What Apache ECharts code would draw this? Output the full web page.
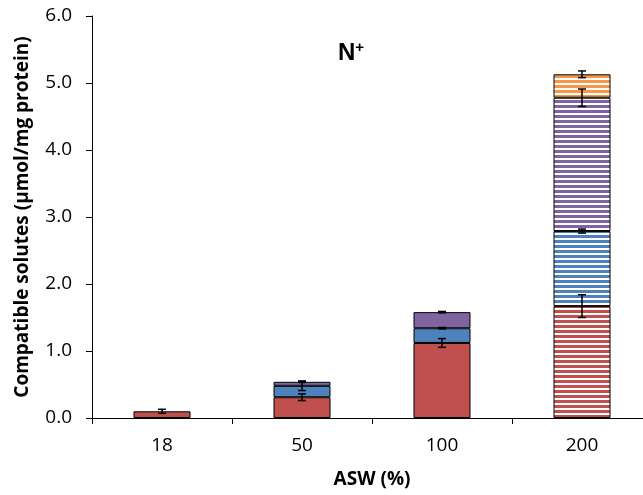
<!DOCTYPE html>
<html>
<head>
<meta charset="utf-8">
<script src="https://cdn.jsdelivr.net/npm/echarts@6/dist/echarts.min.js"></script>
<style>html,body{margin:0;padding:0;background:#fff;overflow:hidden}#c{width:660px;height:495px}</style>
</head>
<body>
<div id="c"></div>
<script>
var categories = ['18', '50', '100', '200'];
var redVals = [0.10, 0.31, 1.12, 1.67];
var blueVals = [0.00, 0.17, 0.22, 1.12];
var purpleVals = [0.00, 0.06, 0.24, 1.99];
var orangeVals = [0.00, 0.00, 0.00, 0.35];
var redErr = [0.03, 0.05, 0.065, 0.17];
var blueErr = [0, 0.07, 0.01, 0.03];
var purpleErr = [0, 0.01, 0.01, 0.13];
var orangeErr = [0, 0, 0, 0.05];
var yTicks = ['0.0', '1.0', '2.0', '3.0', '4.0', '5.0', '6.0'];

var colors = {red: '#C0504D', blue: '#4F81BD', purple: '#8064A2', orange: '#F79646'};
var hatchedIndex = 3;
var FONT = 'Open Sans, Liberation Sans, sans-serif';

function stripe(color) {
  var c = document.createElement('canvas');
  c.width = 4; c.height = 5;
  var ctx = c.getContext('2d');
  ctx.fillStyle = '#ffffff';
  ctx.fillRect(0, 0, 4, 5);
  ctx.fillStyle = color;
  ctx.fillRect(0, 0, 4, 3);
  return {image: c, repeat: 'repeat'};
}

function barData(vals, color) {
  return vals.map(function (v, i) {
    if (v === 0) return {value: '-'};
    return {value: v, itemStyle: {color: i === hatchedIndex ? stripe(color) : color}};
  });
}

var layers = [
  {name: 'red', vals: redVals, err: redErr, color: colors.red},
  {name: 'blue', vals: blueVals, err: blueErr, color: colors.blue},
  {name: 'purple', vals: purpleVals, err: purpleErr, color: colors.purple},
  {name: 'orange', vals: orangeVals, err: orangeErr, color: colors.orange}
];

var errData = [];
var cum = categories.map(function () { return 0; });
layers.forEach(function (L) {
  L.vals.forEach(function (v, i) {
    cum[i] += v;
    if (v > 0 && L.err[i] > 0) errData.push([i, cum[i] - L.err[i], cum[i] + L.err[i]]);
  });
});

var series = layers.map(function (L) {
  return {
    type: 'bar', name: L.name, stack: 'total', barWidth: 57,
    itemStyle: {borderColor: '#000', borderWidth: 1},
    data: barData(L.vals, L.color), animation: false
  };
});

series.push({
  type: 'custom', name: 'err', animation: false, z: 10,
  renderItem: function (params, api) {
    var x = api.value(0);
    var lo = api.coord([x, api.value(1)]);
    var hi = api.coord([x, api.value(2)]);
    var w = 4;
    var st = {stroke: '#000', lineWidth: 1.5};
    return {type: 'group', children: [
      {type: 'line', shape: {x1: lo[0], y1: lo[1], x2: hi[0], y2: hi[1]}, style: st},
      {type: 'line', shape: {x1: lo[0] - w, y1: lo[1], x2: lo[0] + w, y2: lo[1]}, style: st},
      {type: 'line', shape: {x1: hi[0] - w, y1: hi[1], x2: hi[0] + w, y2: hi[1]}, style: st}
    ]};
  },
  encode: {x: 0, y: [1, 2]},
  data: errData
});

var chart = echarts.init(document.getElementById('c'));
chart.setOption({
  animation: false,
  backgroundColor: '#fff',
  title: {
    text: '{n|N}{s|+}', left: 333, top: 36,
    textStyle: {
      rich: {
        n: {fontFamily: 'Liberation Sans, Arial, sans-serif', fontWeight: 'bold', fontSize: 24, color: '#000', verticalAlign: 'bottom', lineHeight: 24},
        s: {fontFamily: 'Liberation Sans, Arial, sans-serif', fontWeight: 'bold', fontSize: 15, color: '#000', verticalAlign: 'bottom', lineHeight: 24, padding: [0, 0, 10, 0]}
      }
    }
  },
  grid: {left: 92, right: 8, top: 16, bottom: 77, containLabel: false},
  xAxis: {
    type: 'category', data: categories,
    name: 'ASW (%)', nameLocation: 'middle', nameGap: 52,
    nameTextStyle: {fontFamily: FONT, fontWeight: 'bold', fontSize: 19, color: '#000'},
    axisLine: {lineStyle: {color: '#000', width: 1}},
    axisTick: {show: true, length: 6, lineStyle: {color: '#000'}},
    axisLabel: {fontFamily: FONT, fontSize: 19, color: '#000', margin: 18}
  },
  yAxis: {
    type: 'value', min: 0, max: 6, interval: 1,
    name: 'Compatible solutes (\u00B5mol/mg protein)', nameLocation: 'middle', nameGap: 60,
    nameTextStyle: {fontFamily: FONT, fontWeight: 'bold', fontSize: 19, color: '#000'},
    axisLine: {show: true, lineStyle: {color: '#000', width: 1}},
    axisTick: {show: true, length: 6, lineStyle: {color: '#000'}},
    splitLine: {show: false},
    axisLabel: {fontFamily: FONT, fontSize: 19, color: '#000', margin: 20,
      formatter: function (v) { return yTicks[Math.round(v)]; }}
  },
  series: series
});
</script>
</body>
</html>
